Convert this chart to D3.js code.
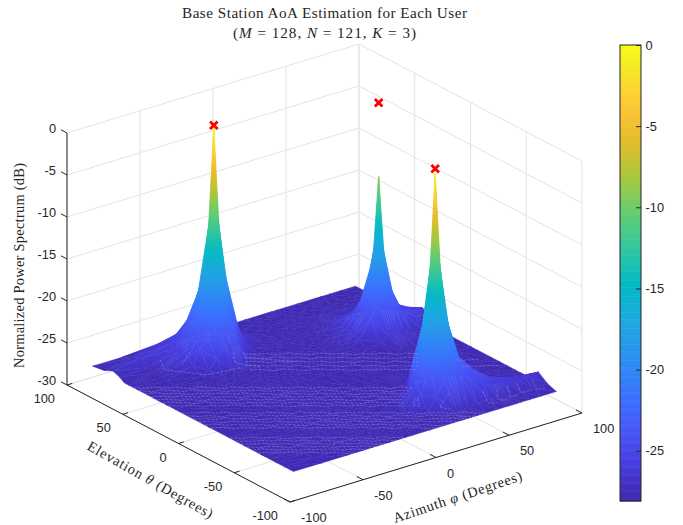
<!DOCTYPE html>
<html>
<head>
<meta charset="utf-8">
<script src="https://cdn.jsdelivr.net/npm/d3@7"></script>
<style>
  html, body { margin: 0; background: #fff; }
  text { fill: #262626; }
  .tick-label { font: 12.8px "Liberation Sans", Arial, sans-serif; }
  .latex { font-family: "Liberation Serif", serif; }
</style>
</head>
<body>
<div id="chart"></div>
<script>
// floor level of the spectrum (dB)
const F = -27.6

// sample positions, denser around the three users
const azimuths = [-90,-70,-52,-47,-42,-36,-32,-30,-28,-24,-18,-13,-8,4,14,20,26,28,30,32,36,42,50,56,58,60,62,66,72,80,90]
const elevations = [-90,-82,-74,-68,-64,-62,-60,-58,-54,-46,-39,-32,-14,4,16,24,28,30,32,36,42,50,54,58,60,62,66,72,80,90]

// spectrum, one row per elevation, one column per azimuth
const spectrumDb = [
  [F,F,F,F,F,F,F,F,F,F, F,F,F,F,F,F, F,F,F,F,F,F, F,F,F,F,F,F,F,F,F],
  [F,F,F,F,F,F,F,F,F,F, F,F,F,F,-27.5,-27.4, -27.2,-27.2,-27.2,-27.2,-27.2,-27, -26.9,-27.1,-27.2,-27.3,-27.3,-27.4,-27.3,-27.2,-27.2],
  [F,F,F,F,F,F,F,F,F,F, F,F,F,F,-27.2,-25.6, -23.8,-23.4,-23.3,-23.4,-23.8,-24.6, -24.6,-25.2,-25.4,-25.5,-25.6,-25.8,-26.1,-26.3,-26.4],
  [F,F,F,F,F,F,F,F,F,F, F,F,F,-27.5,-25.6,-22.7, -20.3,-19.7,-19.5,-19.7,-21,-23.5, -24.4,-25.3,-25.6,-25.8,-26,-26.2,-26.6,-26.9,-27],
  [F,F,F,F,F,F,F,F,F,F, F,F,F,-27.4,-24.6,-21.6, -17,-15.2,-14.5,-15.2,-18.7,-22.6, -25.2,-26.3,-26.6,-26.8,-26.9,-27.2,-27.4,-27.5,-27.5],
  [F,F,F,F,F,F,F,F,F,F, F,F,F,F,-25.2,-21.1, -15.2,-12,-10,-12,-17.8,-22.4, -25.4,-26.4,-26.7,-26.9,-27,-27.2,-27.4,F,F],
  [F,F,F,F,F,F,F,F,F,F, F,F,F,F,-25.5,-21, -14.5,-10,-0.5,-10,-17.5,-22.3, -25.4,-26.4,-26.7,-26.9,-27,-27.2,-27.5,F,F],
  [F,F,F,F,F,F,F,F,F,F, F,F,F,F,-25.7,-21.6, -15.2,-12,-10,-12,-17.8,-22.4, -25.4,-26.4,-26.7,-26.9,-27,-27.2,-27.4,F,F],
  [F,F,F,F,F,F,F,F,F,F, F,F,F,F,-27,-25.5, -18.7,-17.8,-17.5,-17.8,-19.9,-23, -25.6,-26.5,-26.7,-26.9,-27,-27.2,-27.5,F,F],
  [F,F,F,F,F,F,F,F,F,F, F,F,F,F,F,-27, -26.5,-25,-23.3,-23.4,-23.9,-25, -26.2,-26.8,-27,-27.1,-27.2,-27.3,-27.5,F,F],
  [F,F,F,F,F,F,F,F,F,F, F,F,F,F,F,F, -27.5,-27.3,-26.7,-26.7,-26.8,-27, -27.3,-27.5,F,F,F,F,F,F,F],
  [F,F,F,F,F,F,F,F,F,F, F,F,F,F,F,F, -27.5,-27.5,-27.5,-27.5,-27.5,F, F,F,F,F,F,F,F,F,F],
  [F,F,F,F,F,F,F,F,F,F, F,F,F,F,F,F, F,F,F,F,F,F, F,F,F,F,F,F,F,F,F],
  [F,F,F,F,F,F,F,F,F,F, F,F,F,F,F,F, F,F,F,F,F,F, F,F,F,F,F,F,F,F,F],
  [F,F,F,F,F,F,F,F,F,F, F,F,F,F,F,F, F,F,F,F,F,F, -27,-26.5,-26.3,-26.3,-26.3,-26.5,-27,-27.3,-27.5],
  [F,F,F,F,F,F,F,F,F,F, F,F,F,F,F,F, F,F,F,F,-27.5,-26.8, -24.9,-22.8,-22.1,-21.9,-22.1,-23.4,-25.2,-26,-26.5],
  [F,F,F,F,F,F,F,F,F,F, F,F,F,F,F,F, F,F,F,-27.5,-27.3,-26.6, -24.2,-19.5,-17.7,-16.5,-17.7,-22,-24.8,-25.7,-26.1],
  [F,F,F,F,F,F,F,F,F,F, F,F,F,F,F,F, F,F,F,-27.5,-27.3,-26.6, -24.2,-19.3,-16.5,-8.8,-16.5,-21.9,-24.6,-25.4,-26],
  [F,F,F,F,F,-27.5,-27.5,-27.5,-27.5,-27.5, F,F,F,F,F,F, F,F,F,-27.5,-27.3,-26.6, -24.2,-19.5,-17.7,-16.5,-17.7,-22,-24.8,-25.7,-26.1],
  [F,F,F,-27.5,-27.4,-27.1,-26.8,-26.8,-27,-27.4, F,F,F,F,F,F, F,F,F,-27.4,-27,-26.3, -24.7,-22.8,-22.1,-21.9,-22.1,-23.4,-25.2,-26,-26.4],
  [F,F,-27.5,-27,-25.9,-24.7,-24.5,-24.5,-24.8,-26, -27.3,F,F,F,F,F, F,F,F,F,-27.3,-26.6, -25.6,-25,-24.9,-24.8,-24.9,-25.2,-25.9,-26.6,-26.9],
  [F,F,-26.8,-25,-24,-22.1,-21.1,-21,-21.5,-24, -26.7,-27.4,F,F,F,F, F,F,F,F,-27.4,-27.1, -26.5,-26.2,-26.2,-26.2,-26.2,-26.3,-26.6,-26.9,-27.1],
  [F,-27.5,-26,-24.5,-23,-19.9,-17.8,-17.5,-17.8,-20.8, -24.3,-26.6,-27.4,F,F,F, F,F,F,F,F,-27.3, -26.9,-26.7,-26.7,-26.7,-26.7,-26.8,-27,-27.1,-27.2],
  [F,-27.5,-25.8,-24.4,-22.4,-17.8,-12,-10,-12,-17.8, -23.3,-25.6,-26.9,F,F,F, F,F,F,F,F,-27.3, -27.1,-27,-27,-27,-27,-27,-27.1,-27.3,-27.5],
  [F,-27.5,-25.8,-24.4,-22.3,-17.5,-10,-0.2,-10,-17.5, -23.2,-25.9,-27.3,F,F,F, F,F,F,F,F,-27.3, -27.1,-27.1,-27.1,-27.1,-27.1,-27.1,-27.2,-27.3,-27.5],
  [F,-27.5,-25.8,-24.4,-22.4,-17.8,-12,-10,-12,-17.8, -23,-25.3,-26.8,F,F,F, F,F,F,F,F,-27.4, -27.2,-27.2,-27.2,-27.2,-27.2,-27.2,-27.3,-27.4,-27.5],
  [-27.2,-27.1,-25.9,-24.7,-23,-19.9,-17.8,-17.5,-17.8,-19.9, -23,-25.2,-26.2,-27.5,F,F, F,F,F,F,F,F, -27.4,-27.4,-27.4,-27.4,-27.4,-27.4,-27.5,F,F],
  [-26.9,-26.4,-25.8,-25.2,-24.6,-23,-22.4,-22.3,-22.4,-23, -24.6,-25.6,-26.5,F,F,F, F,F,F,F,F,F, F,F,F,F,F,F,F,F,F],
  [-27.4,-26.9,-26.2,-26,-26,-25.6,-25.4,-25.4,-25.4,-25.6, -26,-26.4,-27.2,-27.5,F,F, F,F,F,F,F,F, F,F,F,F,F,F,F,F,F],
  [F,F,F,F,F,F,F,F,F,F, F,F,F,F,F,F, F,F,F,F,F,F, F,F,F,F,F,F,F,F,F]
]

// true user directions, az / el, drawn at 0 dB
const userAz = [-30, 60, 30]
const userEl = [60, 30, -60]

const azTicks = [-100, -50, 0, 50, 100]
const elTicks = [-100, -50, 0, 50, 100]
const zTicks = [-30, -25, -20, -15, -10, -5, 0]
const cbarTicks = [-25, -20, -15, -10, -5, 0]

// parula
const parulaPos = [0, 5, 10, 15, 20, 25, 30, 35, 40, 45, 50, 55, 60, 63].map(d => d / 63)
const parulaHex = ["#3e26a8","#463cde","#4758f8","#3875fe","#2b91ef","#1ca9df","#02bac3","#31c69f","#64cd6f","#abc739","#e6bb2d","#fec934","#f5e924","#f9fb15"]
const cMin = -28.1

// faint mesh seams on the floor: az0, el0, az1, el1
const floorSeams = [
  [-13.8,53.2,61.1,-3.8],[-17.1,48.9,57.8,-8.1],[-20.4,44.6,54.5,-12.4],[-23.7,40.2,51.2,-16.8],[-24.8,34.3,47.9,-21.1],
  [72.2,-22.5,83,-30.7],[70.3,-31.3,86.8,-43.8],
  [-90,53.3,30.5,-38.6],[-90,48.2,27.1,-41.2],[-90,43,23.8,-43.7],[-90,37.7,20.5,-46.3],[-89.9,32.5,17.1,-48.9],[-89.8,27.3,14.6,-52.2],[-90,22.4,12.2,-55.4],
  [-89.8,10.2,41.9,-90],[-89.7,5,35.1,-89.9],[-89.6,-0.3,28.7,-90],[-89.9,-5.1,21.8,-90],[-89.7,-10.4,15.1,-90],[-89.6,-15.6,8.7,-90],
  [-89.7,-32.6,-13.9,-90],[-89.5,-37.9,-20.6,-90],[-89.8,-42.7,-27,-90],[-89.7,-48,-33.8,-90],[-89.6,-53.2,-40.7,-90],[-89.9,-58.1,-47.5,-90]
]
const seamWiggle = [1.2,-1,0.5,-1.6,1.4,0.2,-1.2,1.6,-0.5,1,-1.4,0.7,-0.2,1.4,-0.8]

// contour hooks around the foot of the peaks, [az, el] points
const footLines = [
  [[-55.6,74.7],[-61.7,62.3],[-47.6,43.1],[-27.6,39.8]],
  [[-35.9,73.6],[-50.2,62.1]],
  [[-17.3,59.4],[-25.5,46.8],[-18,34.2]],
  [[-13,56.1],[-16.2,48.3],[3.4,26.5]],
  [[24.4,-49.3],[16.9,-57.2],[18.2,-61.7],[25.3,-50]],
  [[42.4,-56.2],[26.9,-68.3],[28.8,-74.8]],
  [[58.7,-65.2],[51,-79.9],[54.9,-82.8]],
  [[65.7,-68.7],[57.8,-79.9],[62.2,-83.2]],
  [[73.3,-67.7],[65.5,-80.6],[71.4,-81.7]],
  [[80.1,-67.8],[73.6,-79.9],[81.3,-80.6]],
  [[89,-69.5],[83,-81.9],[88.1,-82.4]]
]

const width = 683, height = 525
const svg = d3.select("#chart").append("svg")
  .attr("width", width)
  .attr("height", height)
  .attr("viewBox", `0 0 ${width} ${height}`)
const defs = svg.append("defs")

// projection of the 3D box, bottom corner (az -100, el -100, z -30) at 290,502
const originX = 290, originY = 502
const azToX = d3.scaleLinear().domain([-100, 100]).range([0, 292])
const azToY = d3.scaleLinear().domain([-100, 100]).range([0, -89])
const elToX = d3.scaleLinear().domain([-100, 100]).range([0, -223])
const elToY = d3.scaleLinear().domain([-100, 100]).range([0, -117])
const zToY = d3.scaleLinear().domain([-30, 0]).range([0, -252])

const project = (az, el, z) => [
  originX + azToX(az) + elToX(el),
  originY + azToY(az) + elToY(el) + zToY(z)
]

const parula = d3.scaleLinear().domain(parulaPos).range(parulaHex).clamp(true)
const colorOf = z => parula((z - cMin) / -cMin)

const gridG = svg.append("g").attr("fill", "none").attr("stroke", "#e3e3e3").attr("stroke-width", 1)
const segment = (g, a, b) => g.append("line")
  .attr("x1", a[0]).attr("y1", a[1]).attr("x2", b[0]).attr("y2", b[1])

// back walls and floor grid
zTicks.forEach(z => {
  segment(gridG, project(-100, 100, z), project(100, 100, z))
  segment(gridG, project(100, 100, z), project(100, -100, z))
})
azTicks.forEach(az => {
  segment(gridG, project(az, 100, -30), project(az, 100, 0))
  segment(gridG, project(az, -100, -30), project(az, 100, -30))
})
elTicks.forEach(el => {
  segment(gridG, project(100, el, -30), project(100, el, 0))
  segment(gridG, project(-100, el, -30), project(100, el, -30))
})

// surface, one triangle with a linear gradient along its z slope
const surfaceG = svg.append("g")
let gradId = 0
const triPaint = (p, z) => {
  const lo = d3.min(z), hi = d3.max(z)
  if (hi - lo < 0.12) return colorOf((lo + hi) / 2)
  const ax = p[1][0] - p[0][0], ay = p[1][1] - p[0][1]
  const bx = p[2][0] - p[0][0], by = p[2][1] - p[0][1]
  const det = ax * by - bx * ay
  if (Math.abs(det) < 1e-6) return colorOf((lo + hi) / 2)
  const dz1 = z[1] - z[0], dz2 = z[2] - z[0]
  const A = (dz1 * by - dz2 * ay) / det
  const B = (ax * dz2 - bx * dz1) / det
  const L = A * A + B * B
  const id = "g" + (gradId++)
  const grad = defs.append("linearGradient").attr("id", id)
    .attr("gradientUnits", "userSpaceOnUse")
    .attr("x1", p[0][0] + (lo - z[0]) * A / L).attr("y1", p[0][1] + (lo - z[0]) * B / L)
    .attr("x2", p[0][0] + (hi - z[0]) * A / L).attr("y2", p[0][1] + (hi - z[0]) * B / L)
  const steps = Math.min(12, Math.ceil((hi - lo) / 1.5) + 1)
  d3.range(steps + 1).forEach(k => {
    grad.append("stop").attr("offset", k / steps).attr("stop-color", colorOf(lo + (hi - lo) * k / steps))
  })
  return `url(#${id})`
}
const drawTri = (verts) => {
  const p = verts.map(v => project(v[0], v[1], v[2]))
  const paint = triPaint(p, verts.map(v => v[2]))
  surfaceG.append("path")
    .attr("d", "M" + p.map(q => q.join(",")).join("L") + "Z")
    .attr("fill", paint)
    .attr("stroke", paint)
    .attr("stroke-width", 0.5)
    .attr("stroke-linejoin", "round")
}
// painter's order, back corner (high az, high el) first
for (let r = elevations.length - 2; r >= 0; r--) {
  for (let c = azimuths.length - 2; c >= 0; c--) {
    const a0 = azimuths[c], a1 = azimuths[c + 1], e0 = elevations[r], e1 = elevations[r + 1]
    const z = spectrumDb
    drawTri([[a0, e1, z[r + 1][c]], [a1, e1, z[r + 1][c + 1]], [a1, e0, z[r][c + 1]]])
    drawTri([[a0, e1, z[r + 1][c]], [a1, e0, z[r][c + 1]], [a0, e0, z[r][c]]])
  }
}

// seams and contour hooks
const seamG = svg.append("g").attr("fill", "none")
  .attr("stroke", "#b3abe6").attr("stroke-width", 0.6).attr("stroke-opacity", 0.6)
  .attr("stroke-dasharray", "3 1.2")
const lineGen = d3.line()
floorSeams.forEach((s, i) => {
  const n = Math.max(3, Math.round(Math.hypot(s[2] - s[0], s[3] - s[1]) / 6))
  const pts = d3.range(n + 1).map(k => {
    const t = k / n
    const w = k === 0 || k === n ? 0 : seamWiggle[(k + i * 4) % seamWiggle.length]
    return project(s[0] + (s[2] - s[0]) * t, Math.max(-90, s[1] + (s[3] - s[1]) * t + w), F)
  })
  seamG.append("path").attr("d", lineGen(pts))
})
footLines.forEach(l => {
  seamG.append("path").attr("d", lineGen(l.map(q => project(q[0], q[1], F))))
})

// box axes
const axisG = svg.append("g").attr("stroke", "#262626").attr("stroke-width", 1).attr("fill", "none")
segment(axisG, project(-100, 100, -30), project(-100, 100, 0))
segment(axisG, project(-100, 100, -30), project(-100, -100, -30))
segment(axisG, project(-100, -100, -30), project(100, -100, -30))

const tickLen = 6
elTicks.forEach(el => {
  segment(axisG, project(-100, el, -30), project(-100 + tickLen * 0.6, el, -30))
  const p = project(-100, el, -30)
  svg.append("text").attr("class", "tick-label")
    .attr("x", p[0] - 12).attr("y", p[1] + 18).attr("text-anchor", "end").text(el)
})
azTicks.forEach(az => {
  segment(axisG, project(az, -100, -30), project(az, -100 + tickLen * 0.9, -30))
  const p = project(az, -100, -30)
  svg.append("text").attr("class", "tick-label")
    .attr("x", p[0] + 11).attr("y", p[1] + 20).attr("text-anchor", "start").text(az)
})
zTicks.forEach(z => {
  const p = project(-100, 100, z)
  const q = project(-100, 100 + tickLen * 0.9, z)
  segment(axisG, p, q)
  svg.append("text").attr("class", "tick-label")
    .attr("x", p[0] - 11).attr("y", p[1] - 0.5).attr("text-anchor", "end").text(z)
})

// user markers
const armLen = 3.8
svg.append("g").selectAll("path")
  .data(userAz.map((d, i) => project(d, userEl[i], 0)))
  .join("path")
  .attr("d", d => `M${d[0] - armLen},${d[1] - armLen}L${d[0] + armLen},${d[1] + armLen}M${d[0] - armLen},${d[1] + armLen}L${d[0] + armLen},${d[1] - armLen}`)
  .attr("stroke", "#ff0000")
  .attr("stroke-width", 2.8)
  .attr("fill", "none")

// colorbar
const cbarX = 620, cbarW = 21
const cbarY = d3.scaleLinear().domain([cMin, 0]).range([501, 45])
const cbarSteps = d3.range(0, 256)
svg.append("g").selectAll("rect")
  .data(cbarSteps)
  .join("rect")
  .attr("x", cbarX)
  .attr("width", cbarW)
  .attr("y", d => cbarY(cMin - cMin * (d + 1) / 256))
  .attr("height", 456 / 256 + 0.5)
  .attr("fill", d => colorOf(cMin - cMin * (d + 0.5) / 256))
svg.append("rect").attr("x", cbarX).attr("y", 45).attr("width", cbarW).attr("height", 456)
  .attr("fill", "none").attr("stroke", "#262626").attr("stroke-width", 1)
svg.append("g")
  .attr("transform", `translate(${cbarX + cbarW},0)`)
  .call(d3.axisRight(cbarY).tickValues(cbarTicks).tickSize(-5).tickPadding(10).tickFormat(d => String(d)))
  .call(g => g.select(".domain").remove())
  .call(g => g.selectAll("line").attr("stroke", "#262626"))
  .call(g => g.selectAll("text").attr("class", "tick-label").attr("x", 4.5).attr("text-anchor", "start"))

// title and labels, stretched to the width the LaTeX font had
const latex = (x, y, size, rotate, len, parts) => {
  const t = svg.append("text").attr("class", "latex")
    .attr("text-anchor", "middle")
    .attr("font-size", size)
    .attr("textLength", len)
    .attr("lengthAdjust", "spacing")
    .attr("transform", `translate(${x},${y}) rotate(${rotate})`)
  parts.forEach(p => {
    const s = t.append("tspan").text(p[0])
    if (p[1]) s.attr("font-style", "italic")
  })
  return t
}
latex(324.5, 18, 15.2, 0, 285, [["Base Station AoA Estimation for Each User"]])
latex(324.5, 38, 15.2, 0, 183, [["("], ["M", 1], [" = 128, "], ["N", 1], [" = 121, "], ["K", 1], [" = 3)"]])
latex(24, 265.5, 14.4, -90, 205, [["Normalized Power Spectrum (dB)"]])
latex(148, 484, 14.4, 29.5, 142, [["Elevation "], ["θ", 1], [" (Degrees)"]])
latex(459, 501.5, 14.4, -18.5, 135, [["Azimuth "], ["φ", 1], [" (Degrees)"]])
</script>
</body>
</html>
